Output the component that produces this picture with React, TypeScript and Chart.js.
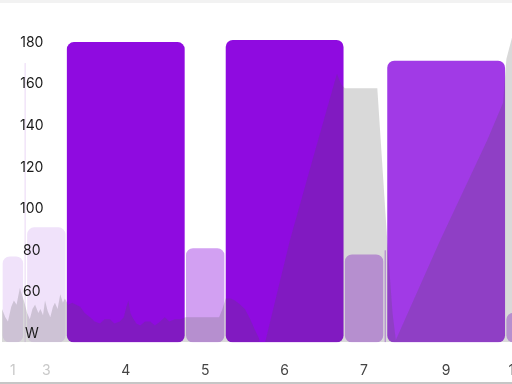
import { useEffect, useRef } from "react";
import { Chart, registerables } from "chart.js";

Chart.register(...registerables);

// Workout intervals (seconds / watts)
const intervalNumbers = [1, 2, 3, 4, 5, 6, 7, 8, 9, 10];
const intervalDurations = [33, 4, 60, 180, 60, 180, 60, 4, 180, 30];
const intervalTargets = [77, 170, 91, 180, 81, 181, 78, 80, 171, 50];
const intervalColors = [
  "#f0e2fa", "#efe0f8", "#f0e2fa", "#8f0be0", "#d2a0f2",
  "#8f0be0", "#d2a0f2", "#d2a0f2", "#a13ae6", "#d2a0f2",
];

// x-axis labels shown under the bars
const xTickIntervals = [1, 3, 4, 5, 6, 7, 9, 10];
const xTickColors = ["#c8c8c8", "#c8c8c8", "#444444", "#444444", "#444444", "#444444", "#444444", "#444444"];

// y-axis
const yTickValues = [40, 60, 80, 100, 120, 140, 160, 180];
const yTickLabels = ["W", "60", "80", "100", "120", "140", "160", "180"];
const yMin = 36;
const yMax = 185;
const xMin = -3;
const xMax = 843;

// Recorded power (time in s, watts)
const powerTimes = [
  0, 5, 9, 14, 18, 22, 27, 31, 34,
  38, 42, 46, 50, 55, 58, 62, 65, 69, 73, 77, 80, 84, 88, 92, 95,
  100, 106, 112, 118, 125, 133, 140, 148, 155, 163, 170, 178, 184, 188, 191, 194, 197, 203, 209, 216, 224, 231, 239, 246, 253, 261, 270, 277,
  285, 300, 315, 328, 333, 338,
  345, 352, 360, 367, 375, 382, 388, 393, 435, 473, 506, 512, 518, 540, 567, 582, 590, 595,
  662, 733, 757, 762, 771, 790,
];
const powerWatts = [
  52, 48, 46, 53, 56, 54, 62, 58, 55,
  50, 47, 52, 54, 50, 52, 49, 56, 51, 48, 53, 55, 52, 59, 55, 57,
  54, 55, 54, 53, 50, 48, 46, 45, 47, 47, 45, 46, 48, 53, 56, 50, 48, 45, 44, 46, 46, 44, 46, 48, 46, 47, 47, 48,
  48, 48, 48, 48, 52, 57,
  57, 56, 54, 52, 47, 42, 38, 30, 85, 128, 165, 160, 158, 158, 158, 85, 50, 37,
  85, 133, 151, 172, 183, 185,
];

const FONT = "Inter, 'Open Sans', 'DejaVu Sans', sans-serif";

export default function App() {
  const canvasRef = useRef<HTMLCanvasElement | null>(null);

  useEffect(() => {
    if (!canvasRef.current) return;

    const starts: number[] = [];
    let acc = 0;
    intervalDurations.forEach((d) => {
      starts.push(acc);
      acc += d;
    });

    const barDatasets: any[] = intervalNumbers.map((n, i) => {
      const start = starts[i];
      const end = start + intervalDurations[i];
      return {
        type: "bar",
        label: "Interval " + n,
        data: [{ x: (start + end) / 2, y: [yMin, intervalTargets[i]] }],
        backgroundColor: intervalColors[i],
        borderWidth: 0,
        borderRadius: 7,
        borderSkipped: false,
        grouped: false,
        order: 1,
        barThickness: (ctx: any) => {
          const xs = ctx.chart.scales && ctx.chart.scales.x;
          if (!xs) return 10;
          const w = xs.getPixelForValue(end) - xs.getPixelForValue(start) - 2;
          return Math.max(w, 0.6);
        },
      };
    });

    const powerDataset: any = {
      type: "line",
      label: "Power",
      data: powerTimes.map((t, i) => ({ x: t, y: powerWatts[i] })),
      borderWidth: 0,
      borderColor: "rgba(0,0,0,0)",
      backgroundColor: "rgba(80,80,80,0.22)",
      pointRadius: 0,
      tension: 0,
      fill: "origin",
      order: 0,
    };

    const chart = new Chart(canvasRef.current, {
      type: "bar",
      data: { datasets: [...barDatasets, powerDataset] },
      options: {
        animation: false,
        responsive: true,
        maintainAspectRatio: false,
        layout: { padding: { top: 29, bottom: 3, left: 0, right: 0 } },
        plugins: { legend: { display: false }, tooltip: { enabled: false } },
        scales: {
          x: {
            type: "linear",
            min: xMin,
            max: xMax,
            offset: false,
            grid: { display: false, drawTicks: true, tickLength: 20, offset: false },
            border: { display: false },
            afterBuildTicks: (axis: any) => {
              axis.ticks = xTickIntervals.map((n) => {
                const i = intervalNumbers.indexOf(n);
                return { value: starts[i] + intervalDurations[i] / 2 };
              });
            },
            afterFit: (axis: any) => {
              axis.paddingLeft = 0;
              axis.paddingRight = 0;
            },
            ticks: {
              autoSkip: false,
              maxRotation: 0,
              padding: 0,
              font: { family: FONT, size: 14 },
              color: (ctx: any) => xTickColors[ctx.index] || "#444444",
              callback: (_v: any, i: number) => String(xTickIntervals[i]),
            },
          },
          y: {
            type: "linear",
            position: "left",
            min: yMin,
            max: yMax,
            grid: { display: false, drawTicks: false },
            border: { display: false },
            afterBuildTicks: (axis: any) => {
              axis.ticks = yTickValues.map((v) => ({ value: v }));
            },
            afterFit: (axis: any) => {
              axis.width = 0;
            },
            ticks: {
              z: 1,
              mirror: true,
              padding: 20,
              crossAlign: "center",
              font: { family: FONT, size: 14 },
              color: "#1a1a1a",
              callback: (_v: any, i: number) => yTickLabels[i],
            },
          },
        },
      } as any,
    });

    return () => chart.destroy();
  }, []);

  return (
    <div
      style={{
        position: "fixed",
        left: 0,
        top: 0,
        width: 512,
        height: 384,
        overflow: "hidden",
        boxSizing: "border-box",
        borderTop: "3px solid #f2f2f2",
        borderBottom: "2px solid #c6c6c6",
        background: "#ffffff",
      }}
    >
      <div style={{ position: "relative", width: 560, height: 379 }}>
        <canvas ref={canvasRef} />
      </div>
    </div>
  );
}
